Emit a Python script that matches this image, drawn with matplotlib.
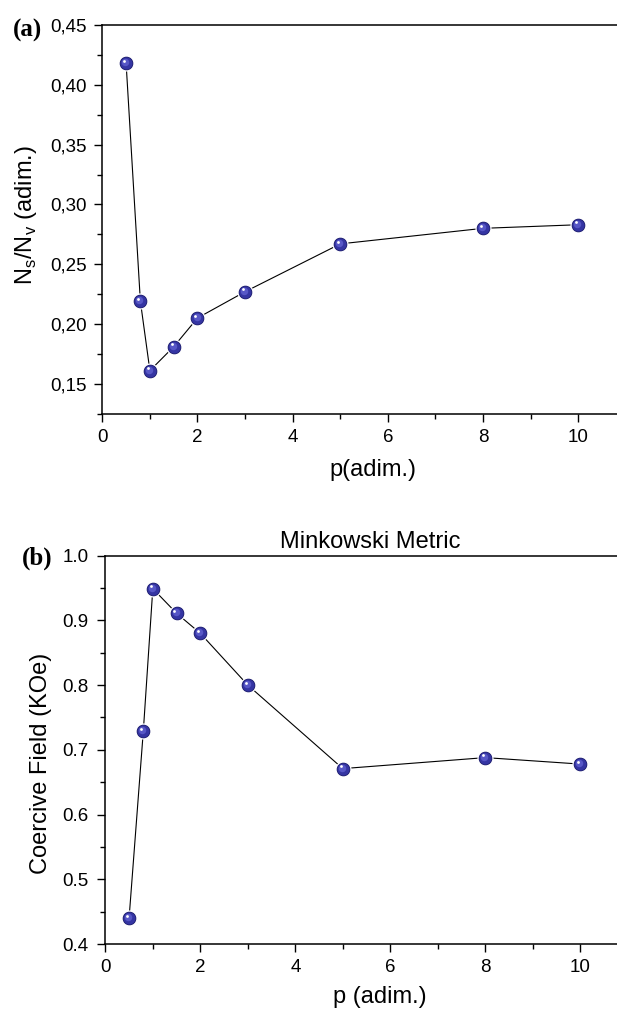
import numpy as np
import matplotlib
matplotlib.use("Agg")
import matplotlib.pyplot as plt
import matplotlib.transforms as mtransforms
from matplotlib.ticker import MultipleLocator, FuncFormatter

# data
p_values = [0.5, 0.8, 1.0, 1.5, 2.0, 3.0, 5.0, 8.0, 10.0]
ns_nv = [0.418, 0.219, 0.161, 0.181, 0.205, 0.227, 0.267, 0.280, 0.283]
coercive = [0.440, 0.729, 0.949, 0.911, 0.880, 0.800, 0.671, 0.688, 0.678]

plt.rcParams['font.family'] = ['Liberation Sans', 'DejaVu Sans']
plt.rcParams['mathtext.fontset'] = 'custom'
plt.rcParams['mathtext.rm'] = 'Liberation Sans'

BALL = '#3535a3'
BALL_EDGE = '#1f1f6e'


def draw_balls(fig, ax, x, y):
    # line first, then "spheres" built from a few stacked markers
    ax.plot(x, y, color='black', lw=0.8, zorder=1)
    ax.plot(x, y, ls='none', marker='o', ms=10.4, mfc=BALL, mec='white',
            mew=1.2, zorder=2)
    ax.plot(x, y, ls='none', marker='o', ms=9.2, mfc=BALL, mec=BALL_EDGE,
            mew=0.6, zorder=3)
    t1 = mtransforms.offset_copy(ax.transData, fig=fig, x=-0.7, y=0.7, units='points')
    ax.plot(x, y, ls='none', marker='o', ms=5.4, mfc='#5757c6', mec='none',
            transform=t1, zorder=4)
    t2 = mtransforms.offset_copy(ax.transData, fig=fig, x=-1.5, y=1.7, units='points')
    ax.plot(x, y, ls='none', marker='o', ms=2.0, mfc='white', mec='none',
            transform=t2, zorder=5)


def style_axes(ax):
    for side in ['top', 'left', 'bottom', 'right']:
        ax.spines[side].set_linewidth(1.1)
    ax.tick_params(which='major', direction='out', length=6, width=1.0,
                   labelsize=13.5, pad=5, top=False, right=False)
    ax.tick_params(which='minor', direction='out', length=3.5, width=1.0,
                   top=False, right=False)
    ax.xaxis.set_major_locator(MultipleLocator(2))
    ax.xaxis.set_minor_locator(MultipleLocator(1))
    ax.set_xlim(0, 11)


fig = plt.figure(figsize=(6.17, 10.09), dpi=100)

# (a) top panel
ax1 = fig.add_axes([0.1658, 0.590, 0.8486, 0.3852])
draw_balls(fig, ax1, p_values, ns_nv)
style_axes(ax1)
ax1.set_ylim(0.125, 0.45)
ax1.yaxis.set_major_locator(MultipleLocator(0.05))
ax1.yaxis.set_minor_locator(MultipleLocator(0.025))
ax1.yaxis.set_major_formatter(FuncFormatter(lambda v, pos: f"{v:.2f}".replace('.', ',')))
ax1.set_xlabel('p(adim.)', fontsize=17)
ax1.xaxis.set_label_coords(0.517, -0.117)
ax1.xaxis.label.set_va('top')
ax1.set_ylabel(r'N$_\mathregular{s}$/N$_\mathregular{v}$ (adim.)', fontsize=17)
ax1.yaxis.set_label_coords(-0.12, 0.51)
fig.text(27 / 617, 1 - 30 / 1009, '(a)', family='Liberation Serif',
         weight='bold', fontsize=18, ha='center', va='center')

# (b) bottom panel
ax2 = fig.add_axes([0.1707, 0.0644, 0.8468, 0.3849])
draw_balls(fig, ax2, p_values, coercive)
style_axes(ax2)
ax2.set_ylim(0.4, 1.0)
ax2.yaxis.set_major_locator(MultipleLocator(0.1))
ax2.yaxis.set_minor_locator(MultipleLocator(0.05))
ax2.yaxis.set_major_formatter(FuncFormatter(lambda v, pos: f"{v:.1f}"))
ax2.tick_params(axis='y', which='major', pad=6)
ax2.set_xlabel('p (adim.)', fontsize=17)
ax2.xaxis.set_label_coords(0.526, -0.108)
ax2.xaxis.label.set_va('top')
ax2.set_ylabel('Coercive Field (KOe)', fontsize=17)
ax2.yaxis.set_label_coords(-0.103, 0.464)
ax2.set_title('Minkowski Metric', fontsize=17, x=0.508, pad=5.5)
fig.text(37.5 / 617, 1 - 558 / 1009, '(b)', family='Liberation Serif',
         weight='bold', fontsize=18, ha='center', va='center')

fig.savefig('out.png', dpi=100)
